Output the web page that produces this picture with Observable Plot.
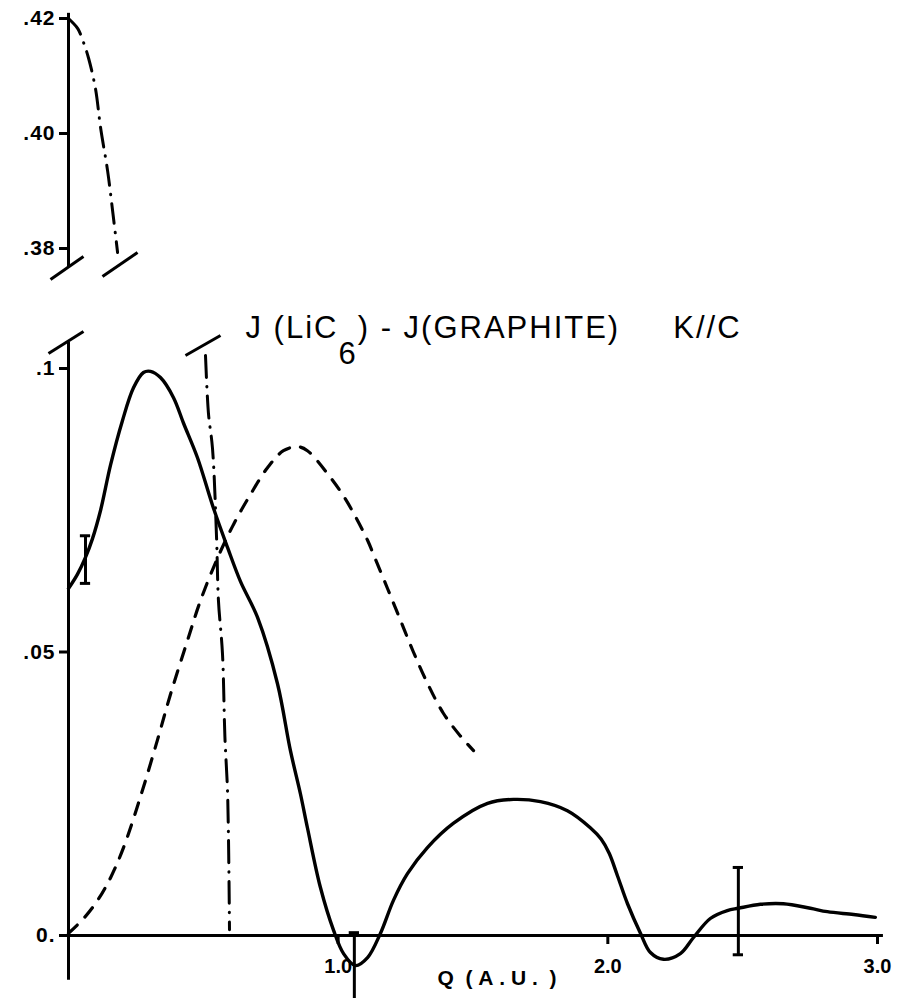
<!DOCTYPE html>
<html>
<head>
<meta charset="utf-8">
<script src="https://cdn.jsdelivr.net/npm/d3@7"></script>
<script src="https://cdn.jsdelivr.net/npm/@observablehq/plot@0.6"></script>
<style>
  body { margin: 0; background: #fff; }
  #chart svg { display: block; }
  #chart svg g[aria-label="x-axis tick label"], #chart svg g[aria-label="x-axis tick label"] text { font-size: 20px !important; font-weight: bold !important; }
  #chart svg g[aria-label="y-axis tick label"], #chart svg g[aria-label="y-axis tick label"] text { font-size: 21px !important; font-weight: bold !important; letter-spacing: 1px; }
</style>
</head>
<body>
<div id="chart"></div>
<script>
// ---------- text ----------
const titleMain = "J (LiC";
const titleSub = "6";
const titleRest = ") - J(GRAPHITE)\u00a0\u00a0\u00a0\u00a0\u00a0K//C";
const xAxisTitle = "Q\u00a0\u00a0(\u00a0A\u00a0.\u00a0U\u00a0.\u00a0\u00a0)";

// ---------- ticks ----------
const xTicks = [1, 2, 3];
const xTickLabels = ["1.0", "2.0", "3.0"];
const yTicks = [0, 0.05, 0.1, 0.38, 0.40, 0.42];
const yTickLabels = ["0.", ".05", ".1", ".38", ".40", ".42"];

// ---------- solid curve: J(LiC6) - J(graphite) ----------
const solidQ = [0, 0.033, 0.063, 0.089, 0.119, 0.156, 0.200, 0.241, 0.278, 0.304, 0.341, 0.389, 0.427, 0.478, 0.538, 0.590, 0.638, 0.701, 0.775, 0.823, 0.860, 0.886, 0.934, 0.983, 1.020, 1.064, 1.109, 1.157, 1.205, 1.257, 1.331, 1.428, 1.554, 1.650, 1.750, 1.850, 1.935, 1.975, 2.005, 2.036, 2.073, 2.121, 2.158, 2.206, 2.269, 2.317, 2.380, 2.443, 2.484, 2.566, 2.651, 2.751, 2.814, 2.911, 2.992];
const solidJ = [0.0612, 0.0637, 0.0667, 0.0700, 0.0750, 0.0830, 0.0908, 0.0966, 0.0993, 0.0995, 0.0984, 0.0949, 0.0903, 0.0843, 0.0753, 0.0684, 0.0624, 0.0561, 0.0444, 0.0326, 0.0250, 0.0190, 0.0085, 0.0009, -0.0032, -0.0053, -0.0039, 0.0004, 0.0062, 0.0109, 0.0155, 0.0198, 0.0233, 0.0240, 0.0236, 0.0220, 0.0190, 0.0170, 0.0145, 0.0105, 0.0056, 0.0004, -0.0030, -0.0042, -0.0032, -0.0004, 0.0030, 0.0044, 0.0048, 0.0055, 0.0056, 0.0048, 0.0042, 0.0037, 0.0032];

// ---------- dashed curve ----------
const dashedQ = [0, 0.056, 0.108, 0.156, 0.204, 0.267, 0.330, 0.378, 0.441, 0.489, 0.552, 0.612, 0.675, 0.738, 0.797, 0.849, 0.886, 0.971, 1.020, 1.057, 1.109, 1.131, 1.183, 1.231, 1.279, 1.331, 1.390, 1.453, 1.502];
const dashedJ = [0.0004, 0.0030, 0.0062, 0.0102, 0.0155, 0.0245, 0.0345, 0.0425, 0.0520, 0.0590, 0.0665, 0.0725, 0.0778, 0.0825, 0.0855, 0.0862, 0.0855, 0.0808, 0.0775, 0.0745, 0.0697, 0.0672, 0.0612, 0.0556, 0.0500, 0.0445, 0.0392, 0.0352, 0.0326];

// ---------- dash-dot curve (broken axis: upper and lower parts) ----------
const dashDotUpperQ = [0, 0.015, 0.035, 0.056, 0.075, 0.100, 0.119, 0.145, 0.165, 0.182];
const dashDotUpperJ = [0.4200, 0.4193, 0.4182, 0.4158, 0.4130, 0.4078, 0.4010, 0.3935, 0.3860, 0.3793];
const dashDotLowerQ = [0.508, 0.519, 0.534, 0.549, 0.556, 0.571, 0.580, 0.590, 0.597];
const dashDotLowerJ = [0.1023, 0.0921, 0.0859, 0.0702, 0.0591, 0.0497, 0.0350, 0.0250, 0.0010];

// ---------- error bars ----------
const errQ = [0.063, 1.060, 2.484];
const errLo = [0.0621, -0.0115, -0.0034];
const errHi = [0.0705, 0.0005, 0.0120];

// ---------- broken y axis segments and break marks ----------
const axisLo = [0.3767, -0.0079];
const axisHi = [0.4209, 0.1046];
const breakX1 = [-0.0667, 0.126, -0.0742, 0.4338];
const breakY1 = [0.37461, 0.37513, 0.10265, 0.10229];
const breakX2 = [0.0556, 0.256, 0.0556, 0.5636];
const breakY2 = [0.37861, 0.37930, 0.10653, 0.10582];

// ---------- tables ----------
const zip = (Q, J) => Q.map((q, i) => ({q, j: J[i]}));
const solid = zip(solidQ, solidJ);
const dashed = zip(dashedQ, dashedJ);
const dashDotUpper = zip(dashDotUpperQ, dashDotUpperJ);
const dashDotLower = zip(dashDotLowerQ, dashDotLowerJ);
const errors = errQ.map((q, i) => ({q, lo: errLo[i], hi: errHi[i]}));
const caps = errors.flatMap(d => [{q: d.q, j: d.lo}, {q: d.q, j: d.hi}]);
const axisSegs = axisLo.map((lo, i) => ({lo, hi: axisHi[i]}));
const breaks = breakX1.map((x1, i) => ({x1, y1: breakY1[i], x2: breakX2[i], y2: breakY2[i]}));

const font = "'Liberation Sans', Arial, sans-serif";
const capHalf = 0.019;
const titleFull = titleMain + titleSub + titleRest;

const chart = Plot.plot({
  width: 900,
  height: 998,
  marginLeft: 68,
  marginRight: 23,
  marginTop: 0,
  marginBottom: 64,
  style: {fontFamily: font, fontSize: "20px", fontWeight: "bold", color: "#000", background: "#fff", overflow: "visible"},
  x: {domain: [0, 3], range: [68, 877]},
  y: {type: "linear", domain: [-0.011, 0.1074, 0.3724, 0.4231], range: [997.37, 326.04, 291.7, 0.175]},
  marks: [
    Plot.axisX(xTicks, {anchor: "bottom", tickFormat: d => xTickLabels[xTicks.indexOf(d)], tickSize: 10, tickPadding: 14, strokeWidth: 3, fontSize: 20, fontWeight: "bold", label: null}),
    Plot.axisY(yTicks, {anchor: "left", tickFormat: d => yTickLabels[yTicks.indexOf(d)], tickSize: 9, tickPadding: 4, strokeWidth: 3, fontSize: 21, fontWeight: "bold", label: null}),
    Plot.ruleX(axisSegs, {x: () => 0, y1: "lo", y2: "hi", strokeWidth: 3}),
    Plot.ruleY([0], {x1: () => 0, x2: () => 3.022, strokeWidth: 3}),
    Plot.link(breaks, {x1: "x1", y1: "y1", x2: "x2", y2: "y2", strokeWidth: 3}),
    Plot.line(dashDotUpper, {x: "q", y: "j", curve: "catmull-rom", strokeWidth: 3, strokeDasharray: "20,9,0.5,9", strokeLinecap: "round"}),
    Plot.line(dashDotLower, {x: "q", y: "j", curve: "catmull-rom", strokeWidth: 3, strokeDasharray: "22,9,0.5,9", strokeLinecap: "round"}),
    Plot.line(dashed, {x: "q", y: "j", curve: "catmull-rom", strokeWidth: 3.2, strokeDasharray: "12,11", strokeLinecap: "round"}),
    Plot.line(solid, {x: "q", y: "j", curve: "catmull-rom", strokeWidth: 3.4, strokeLinejoin: "round"}),
    Plot.ruleX(errors, {x: "q", y1: "lo", y2: "hi", strokeWidth: 3}),
    Plot.ruleY(caps, {y: "j", x1: d => d.q - capHalf, x2: d => d.q + capHalf, strokeWidth: 3}),
    Plot.text([titleFull], {frameAnchor: "top-left", dx: 177, dy: 337, textAnchor: "start", lineAnchor: "bottom", fontSize: 31, fontWeight: "normal"}),
    Plot.text([xAxisTitle], {frameAnchor: "bottom", dx: 24, dy: 44, textAnchor: "middle", lineAnchor: "middle", fontSize: 21, fontWeight: "bold"})
  ]
});

// subscript "6" in the title and letter spacing
const tNode = Array.from(chart.querySelectorAll("text")).find(n => n.textContent === titleFull);
if (tNode) {
  tNode.textContent = "";
  tNode.setAttribute("letter-spacing", "2");
  const sel = d3.select(tNode);
  sel.append("tspan").text(titleMain);
  sel.append("tspan").attr("dy", "0.85em").text(titleSub);
  sel.append("tspan").attr("dy", "-0.85em").text(titleRest);
}

document.getElementById("chart").appendChild(chart);
</script>
</body>
</html>
